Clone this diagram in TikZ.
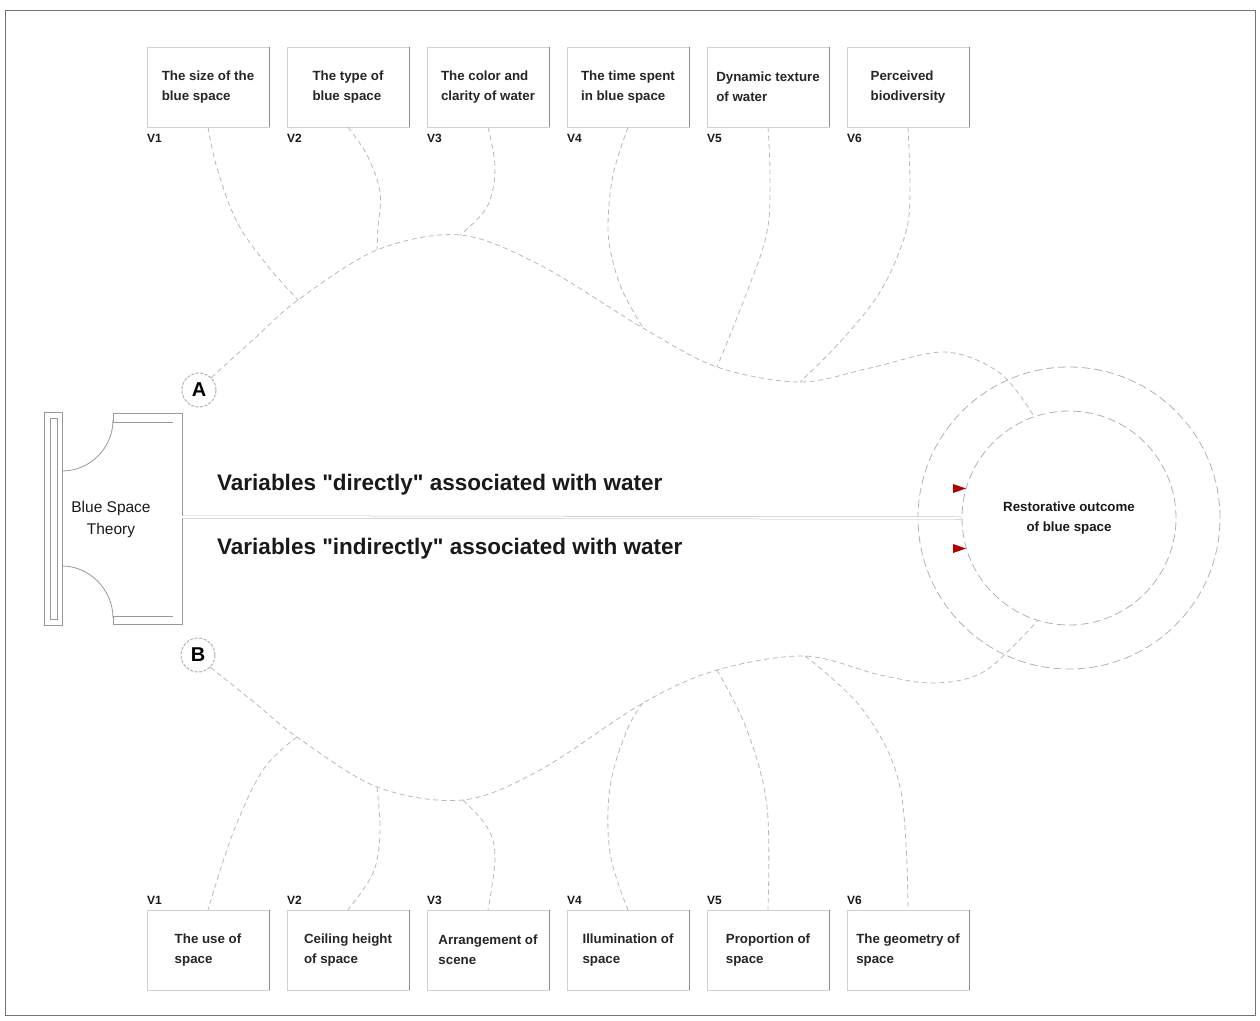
\documentclass[tikz,border=0pt]{standalone}
\usepackage{fontspec}
\setmainfont{Liberation Sans}[Ligatures=TeXOff]
\begin{document}
\begin{tikzpicture}[x=1pt,y=-1pt,
  conn/.style={draw=black!28, dash pattern=on 5pt off 3.5pt, line width=0.8pt},
  vbox/.style={rectangle, draw=black!18, fill=white, minimum width=122pt, minimum height=80pt, inner sep=0pt, align=left, text=black!85, font=\bfseries\fontsize{13.3}{20}\selectfont},
  boxedge/.style={draw=black!45, line width=0.8pt},
  vlab/.style={anchor=west, inner sep=0pt, text=black!90, font=\bfseries\fontsize{12}{12}\selectfont},
  letter/.style={circle, draw=black!30, dash pattern=on 3pt off 1.5pt, line width=1pt, fill=white, minimum size=34pt, inner sep=0pt, font=\bfseries\fontsize{20}{20}\selectfont},
  ring/.style={circle, draw=black!30, dash pattern=on 8pt off 4pt, line width=0.8pt, inner sep=0pt},
  bracket/.style={draw=black!40, line width=0.8pt},
  bigtext/.style={anchor=west, inner sep=0pt, text=black!90, font=\bfseries\fontsize{22.5}{24}\selectfont},
  arrowtip/.style={fill=red!70!black}
]
\useasboundingbox (0,0) rectangle (1260,1020);
\draw[black!55, line width=0.8pt] (5,10) rectangle (1255,1015);

% top boxes
\node[vbox] (t1) at (208,87) {The size of the\\blue space};
\node[vbox] (t2) at (348,87) {The type of\\blue space};
\node[vbox] (t3) at (488,87) {The color and\\clarity of water};
\node[vbox] (t4) at (628,87) {The time spent\\in blue space};
\node[vbox] (t5) at (768,87) {Dynamic texture\\of water};
\node[vbox] (t6) at (908,87) {Perceived\\biodiversity};
% bottom boxes
\node[vbox] (b1) at (208,950) {The use of\\space};
\node[vbox] (b2) at (348,950) {Ceiling height\\of space};
\node[vbox] (b3) at (488,950) {Arrangement of\\scene};
\node[vbox] (b4) at (628,950) {Illumination of\\space};
\node[vbox] (b5) at (768,950) {Proportion of\\space};
\node[vbox] (b6) at (908,950) {The geometry of\\space};
\foreach \n in {t1,t2,t3,t4,t5,t6,b1,b2,b3,b4,b5,b6}
  \draw[boxedge] (\n.north east) -- (\n.south east);

% V labels
\foreach \i/\x in {1/147,2/287,3/427,4/567,5/707,6/847}{
  \node[vlab] (vt\i) at (\x,138) {V\i};
  \node[vlab] (vb\i) at (\x,900) {V\i};
}

% circles
\node[ring, minimum size=302pt] (oc) at (1069,518) {};
\node[ring, minimum size=214pt, align=center, text=black!90, font=\bfseries\fontsize{13.3}{20}\selectfont] (rc) at (1069,518) {Restorative outcome\\of blue space};

% letters
\node[letter] (A) at (199,390) {A};
\node[letter] (B) at (198,655) {B};

% bracket
\draw[bracket] (44,412) rectangle (62,625);
\draw[bracket] (50,418) rectangle (57,619);
\draw[bracket] (62,471) .. controls (90,471) and (113,448) .. (113,420);
\draw[bracket] (62,566) .. controls (90,566) and (113,590) .. (113,618);
\draw[bracket] (173,422) -- (113,422) -- (113,413) -- (182,413) -- (182,624) -- (113,624) -- (113,616) -- (173,616);
\node[align=center, inner sep=0pt, text=black!90, font=\fontsize{15.5}{22}\selectfont] (bst) at (111,519) {Blue Space\\Theory};

% horizontal divider
\coordinate (hs) at (182,517);
\draw[black!25, line width=0.5pt, double=white, double distance=2pt] (hs) -- (rc.west);

% big texts
\node[bigtext] (dir) at (217,485) {Variables "directly" associated with water};
\node[bigtext] (ind) at (217,549) {Variables "indirectly" associated with water};

% red arrow tips
\fill[arrowtip] (953,484) -- (966,488.5) -- (953,493) -- cycle;
\fill[arrowtip] (953,544) -- (966,548.5) -- (953,553) -- cycle;

% junctions
\coordinate (jt1) at (298,300);
\coordinate (jt2) at (377,250);
\coordinate (jt3) at (460,235);
\coordinate (jt4) at (643,328);
\coordinate (jt5) at (717,367);
\coordinate (jt6) at (800,382);
\coordinate (jb1) at (297,737);
\coordinate (jb2) at (377,787);
\coordinate (jb3) at (463,800);
\coordinate (jb4) at (643,703);
\coordinate (jb5) at (717,670);
\coordinate (jb6) at (805,656);

% waves
\draw[conn] plot[smooth, tension=0.55] coordinates {(A.45) (255,338) (jt1) (jt2) (jt3) (540,265) (jt4) (jt5) (jt6) (870,368) (945,352) (1000,373) (rc.109)};
\draw[conn] plot[smooth, tension=0.55] coordinates {(B.-45) (255,703) (jb1) (jb2) (jb3) (540,770) (jb4) (jb5) (jb6) (880,675) (935,683) (985,671) (rc.253)};

% top branches
\draw[conn] plot[smooth, tension=0.6] coordinates {(t1.south) (217,168) (237,222) (267,265) (jt1)};
\draw[conn] plot[smooth, tension=0.6] coordinates {(t2.south) (367,155) (380,192) (378,228) (jt2)};
\draw[conn] plot[smooth, tension=0.6] coordinates {(t3.south) (495,168) (487,207) (jt3)};
\draw[conn] plot[smooth, tension=0.6] coordinates {(t4.south) (613,175) (608,225) (612,258) (623,292) (jt4)};
\draw[conn] plot[smooth, tension=0.6] coordinates {(t5.south) (770,175) (767,232) (747,292) (jt5)};
\draw[conn] plot[smooth, tension=0.6] coordinates {(t6.south) (910,192) (905,235) (880,292) (840,342) (jt6)};

% bottom branches
\draw[conn] plot[smooth, tension=0.6] coordinates {(jb1) (263,770) (233,833) (b1.north)};
\draw[conn] plot[smooth, tension=0.6] coordinates {(jb2) (380,833) (373,873) (b2.north)};
\draw[conn] plot[smooth, tension=0.6] coordinates {(jb3) (487,827) (495,857) (b3.north)};
\draw[conn] plot[smooth, tension=0.6] coordinates {(jb4) (627,730) (610,787) (610,853) (b4.north)};
\draw[conn] plot[smooth, tension=0.6] coordinates {(jb5) (747,730) (767,807) (b5.north)};
\draw[conn] plot[smooth, tension=0.6] coordinates {(jb6) (863,710) (900,787) (b6.north)};
\end{tikzpicture}
\end{document}
